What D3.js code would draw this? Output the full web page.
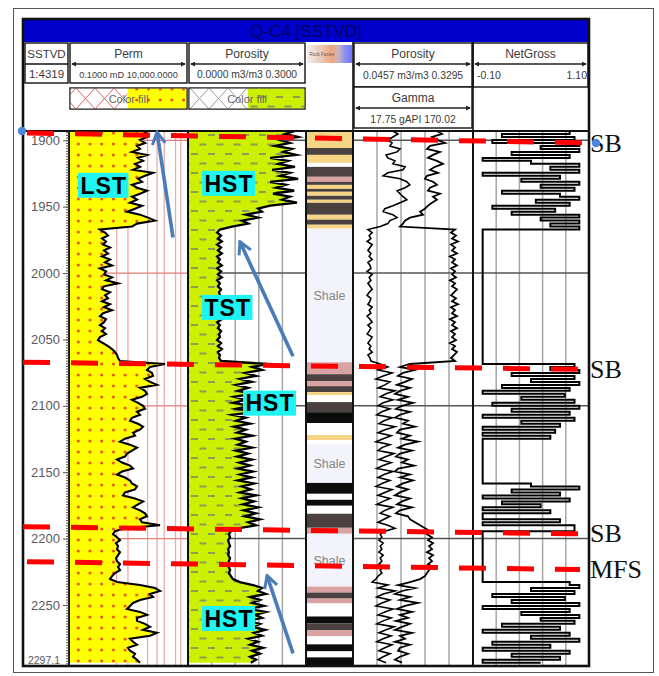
<!DOCTYPE html>
<html>
<head>
<meta charset="utf-8">
<title>Q-C4 well log</title>
<script src="https://cdn.jsdelivr.net/npm/d3@7/dist/d3.min.js"></script>
<style>
  html, body { margin: 0; padding: 0; background: #fff; }
  svg { display: block; font-family: "Liberation Sans", Arial, sans-serif; }
</style>
</head>
<body>
<svg id="log" width="659" height="676"></svg>
<script>
// ---------------- data ----------------
// Depth axis (m SSTVD)
const depthTicks = [1900, 1950, 2000, 2050, 2100, 2150, 2200, 2250];
const depthBaseLabel = "2297.1";
const depthGrid = [1900, 2000, 2100, 2200];

// Log samples on a regular 2.25 m step from 1893 m
const sampleTop = 1893;
const sampleStep = 2.25;

// Permeability, mD
const perm = [
  208, 129, 189, 96.2, 156, 71.9, 96.2, 44.4, 189, 79.3,
  129, 59.3, 96.2, 48.9, 338, 156, 79.3, 117, 44.4, 71.9,
  189, 96.2, 44.4, 71.9, 36.6, 117, 59.3, 27.4, 96.2, 208,
  410, 71.9, 44.4, 2.0, 3.26, 4.36, 2.44, 3.59, 2.69, 5.29,
  2.96, 4.36, 2.44, 5.29, 3.26, 6.41, 2.0, 3.59, 2.96, 6.41,
  3.59, 11.5, 2.96, 2.44, 5.29, 3.26, 4.36, 2.44, 5.29, 2.96,
  6.41, 2.69, 2.0, 3.59, 2.96, 2.0, 3.26, 2.44, 3.59, 2.0,
  1.65, 2.69, 4.36, 6.41, 8.57, 10.4, 11.5, 13.9, 1081, 253,
  189, 307, 338, 156, 253, 498, 96.2, 156, 189, 117,
  44.4, 79.3, 129, 156, 71.9, 96.2, 44.4, 36.6, 79.3, 129,
  96.2, 48.9, 59.3, 22.5, 13.9, 36.6, 71.9, 44.4, 27.4, 22.5,
  10.4, 16.9, 36.6, 48.9, 16.9, 10.4, 22.5, 36.6, 44.4, 71.9,
  59.3, 22.5, 18.6, 59.3, 129, 79.3, 48.9, 96.2, 156, 189,
  96.2, 117, 666, 22.5, 8.57, 7.06, 10.4, 13.9, 9.44, 11.5,
  10.4, 13.9, 11.5, 9.44, 10.4, 13.9, 11.5, 13.9, 8.57, 6.41,
  5.29, 10.4, 96.2, 410, 666, 253, 338, 96.2, 48.9, 36.6,
  27.4, 96.2, 189, 71.9, 71.9, 156, 253, 129, 498, 253,
  36.6, 48.9, 71.9, 30.1, 36.6, 59.3, 48.9, 71.9, 96.2
];

// Porosity, m3/m3 (track 2)
const porosity = [
  .272, .247, .280, .234, .259, .221, .264, .242, .275, .209,
  .254, .229, .272, .214, .259, .234, .280, .209, .249, .224,
  .270, .216, .259, .239, .277, .209, .178, .188, .147, .178,
  .137, .153, .112,
  .081, .074, .084, .076, .086, .074, .084, .076, .086, .074,
  .081, .076, .086, .074, .084, .076, .086, .074, .081, .076,
  .084, .079, .081, .074, .084, .076, .086, .074, .084, .076,
  .086, .074, .081, .076, .084, .079, .081, .074, .084, .076,
  .086, .076, .081, .079, .084,
  .203, .163, .188, .145, .173, .132, .163, .122, .153, .127,
  .163, .117, .147, .114, .158, .122, .173, .112, .147, .122,
  .158, .117, .147, .125, .163, .120, .147, .127, .163, .122,
  .153, .125, .163, .130, .158, .127, .165, .132, .163, .127,
  .168, .137, .160, .132, .173, .137, .168, .140, .178, .142,
  .173, .145, .183, .153, .173, .127,
  .109, .104, .107, .102, .104, .107, .102, .104, .102, .107,
  .104, .102, .104, .107, .104, .109, .114,
  .132, .165, .188, .178, .198, .158, .183, .163, .193, .153,
  .198, .170, .188, .153, .183, .163, .196, .168, .188, .153,
  .178, .158, .191, .163, .183, .158, .173, .160
];

// Porosity, m3/m3 (track 4)
const porosity2 = [
  .140, .152, .140, .128, .138, .133, .157, .150, .124, .128,
  .145, .140, .169, .164, .128, .117, .157, .173, .180, .169,
  .150, .157, .164, .173, .157, .140, .121, .117, .140, .150,
  .133, .128, .110,
  .081, .091, .084, .088, .079, .091, .086, .081, .088, .084,
  .091, .081, .086, .088, .079, .091, .084, .088, .081, .086,
  .091, .084, .079, .088, .086, .081, .091, .084, .088, .079,
  .086, .091, .081, .088, .084, .079, .091, .086, .081, .088,
  .084, .091, .081, .086, .088,
  .110, .128, .105, .138, .117, .100, .133, .121, .105, .145,
  .124, .110, .140, .117, .105, .133, .114, .102, .138, .119,
  .107, .145, .121, .105, .136, .117, .100, .133, .114, .105,
  .143, .124, .107, .136, .117, .102, .140, .119, .105, .133,
  .114, .100, .138, .121, .105, .133, .117, .102, .140, .121,
  .110, .133, .119, .105, .128, .145,
  .121, .110, .114, .107, .117, .110, .114, .107, .117, .110,
  .114, .107, .117, .110, .114, .105, .100,
  .091, .128, .105, .145, .117, .102, .133, .114, .100, .140,
  .121, .105, .136, .117, .102, .143, .124, .107, .136, .117,
  .102, .138, .121, .107, .133, .117, .105, .124
];

// Gamma ray, gAPI
const gamma = [
  124.3, 130.7, 118.0, 124.3, 134.5, 115.5, 111.6, 128.1, 119.3, 112.9,
  124.3, 131.9, 121.8, 115.5, 125.6, 111.6, 109.1, 119.3, 124.3, 115.5,
  112.9, 128.1, 119.3, 124.3, 118.0, 112.9, 109.1, 102.8, 106.6, 90.1,
  83.7, 81.2, 77.4,
  147.2, 142.1, 148.4, 143.4, 151.0, 142.1, 147.2, 143.4, 149.7, 140.8,
  147.2, 143.4, 149.7, 142.1, 147.2, 143.4, 148.4, 140.8, 147.2, 143.4,
  149.7, 145.9, 142.1, 148.4, 143.4, 151.0, 142.1, 147.2, 143.4, 149.7,
  140.8, 147.2, 143.4, 149.7, 142.1, 147.2, 143.4, 148.4, 140.8, 147.2,
  143.4, 149.7, 145.9, 142.1, 147.2,
  90.1, 77.4, 96.4, 81.2, 74.9, 92.6, 83.7, 73.6, 90.1, 77.4,
  71.0, 87.5, 74.9, 93.9, 79.9, 72.3, 90.1, 77.4, 71.0, 87.5,
  81.2, 96.4, 77.4, 73.6, 90.1, 79.9, 100.2, 83.7, 74.9, 92.6,
  77.4, 72.3, 87.5, 79.9, 95.2, 74.9, 71.0, 90.1, 77.4, 93.9,
  81.2, 73.6, 87.5, 77.4, 71.0, 90.1, 79.9, 73.6, 92.6, 77.4,
  72.3, 87.5, 90.1, 96.4, 102.8, 109.1,
  115.5, 111.6, 118.0, 112.9, 119.3, 114.2, 118.0, 111.6, 119.3, 114.2,
  118.0, 112.9, 119.3, 114.2, 111.6, 109.1, 102.8,
  90.1, 74.9, 96.4, 79.9, 71.0, 90.1, 77.4, 100.2, 83.7, 73.6,
  92.6, 77.4, 87.5, 72.3, 90.1, 79.9, 71.0, 92.6, 77.4, 83.7,
  71.0, 90.1, 77.4, 74.9, 87.5, 77.4, 71.0, 79.9
];

// Net to gross flag
const netGross = [
  0.9, 0.2, 0.95, 0.1, 1.0, 0.6, 1.0, 0.3, 0.9, 0.0,
  0.5, 1.0, 0.7, 1.0, 0.0, 0.8, 0.4, 1.0, 0.6, 0.95,
  0.2, 0.8, 1.0, 0.55, 0.9, 0.1, 0.75, 0.3, 1.0, 0.6,
  1.0, 0.7, 1.0,
  0, 0, 0, 0, 0, 0, 0, 0, 0, 0,
  0, 0, 0, 0, 0, 0, 0, 0, 0, 0,
  0, 0, 0, 0, 0, 0, 0, 0, 0, 0,
  0, 0, 0, 0, 0, 0, 0, 0, 0, 0,
  0, 0, 0, 0, 0,
  0.95, 0.7, 1.0, 0.3, 0.95, 0.5, 1.0, 0.2, 0.9, 0.0,
  0.85, 0.4, 0.95, 0.1, 1.0, 0.3, 0.9, 0.0, 0.95, 0.4,
  0.8, 0.0, 0.75, 0.0, 0.7, 0.0,
  0, 0, 0, 0, 0, 0, 0, 0, 0, 0, 0, 0, 0, 0,
  0.5, 1.0, 0.3, 0.8, 0.0, 0.9, 0.2, 0.6, 0.0, 0.7,
  0.0, 0.0, 0.8, 0.0, 0.95, 0.95,
  0, 0, 0, 0, 0, 0, 0, 0, 0, 0, 0, 0, 0, 0, 0, 0, 0,
  0.9, 1.0, 0.5, 0.95, 0.1, 0.85, 0.3, 1.0, 0.0, 0.9,
  0.4, 1.0, 0.6, 0.95, 0.2, 0.8, 0.0, 0.9, 0.5, 1.0,
  0.1, 0.7, 0.0, 0.9, 0.3, 0.8, 0.0, 0.6
];

// Lithology column: interval tops (m) and rock class
const lithoTop = [
  1893.0, 1905.8, 1911.0, 1917.0, 1920.0, 1927.5, 1931.3, 1933.6, 1936.6, 1938.8,
  1941.8, 1944.8, 1947.1, 1956.1, 1959.8, 1963.6, 1966.6, 2067.2, 2076.2, 2081.5,
  2085.2, 2089.7, 2092.0, 2097.2, 2104.8, 2113.0, 2122.0, 2125.8, 2128.8, 2158.1,
  2166.3, 2170.8, 2175.3, 2181.3, 2191.9, 2196.4, 2236.2, 2240.7, 2245.2, 2248.9,
  2258.7, 2264.0, 2269.2, 2273.7, 2279.7, 2285.0, 2289.5
];
const lithoClass = [
  "sand", "shaly", "sand", "silt", "shaly", "calc", "shaly", "sand", "shaly", "sand",
  "shaly", "sand", "shaly", "sand", "shaly", "sand", "shale", "calc", "shaly", "calc",
  "shaly", "sand", "silt", "shaly", "coal", "silt", "sand", "silt", "shale", "coal",
  "silt", "coal", "silt", "shaly", "calc", "shale", "calc", "shaly", "calc", "silt",
  "coal", "shaly", "calc", "silt", "coal", "silt", "coal"
];

// Sequence-stratigraphic surfaces
const surfaceName = ["SB", "SB", "SB", "MFS"];
const surfaceDepthLeft = [1894.5, 2067.2, 2191.1, 2217.4];
const surfaceDepthRight = [1902.0, 2072.5, 2196.4, 2223.4];

// Systems tracts
const tractName = ["LST", "HST", "TST", "HST", "HST"];
const tractDepth = [1933.9, 1932.4, 2025.9, 2098.0, 2260.2];
const tractTrack = ["perm", "poro", "poro", "poro", "poro"];

// Trend arrows (tail -> head), in track units
const arrowTrack = ["perm", "poro", "poro"];
const arrowTailValue = [2345, 0.267, 0.267];
const arrowTailDepth = [1973.3, 2062.7, 2286.5];
const arrowHeadValue = [500, 0.132, 0.201];
const arrowHeadDepth = [1893.8, 1976.4, 2227.9];

// Permeability grid lines, mD
const permGrid = [10, 30, 200, 500, 1000, 3000, 5000];

// ---------------- layout ----------------
const svg = d3.select("#log");
const TOP = 131, BOT = 666;
const col = {
  depth: [23, 69], perm: [69, 188], poro: [188, 306],
  litho: [306, 353], gam: [353, 473], ng: [473, 589]
};

const y = d3.scaleLinear().domain([1893, 2296]).range([TOP, BOT]);
const xPerm = d3.scaleLog().domain([0.1, 10000]).range(col.perm);
const xPoro = d3.scaleLinear().domain([0, 0.3]).range(col.poro);
const xPor2 = d3.scaleLinear().domain([0.0457, 0.3295]).range(col.gam);
const xGam = d3.scaleLinear().domain([17.75, 170.02]).range(col.gam);
const xNG = d3.scaleLinear().domain([-0.1, 1.1]).range(col.ng);
const xTrack = { perm: xPerm, poro: xPoro };

const rows = perm.map((p, i) => ({
  d: sampleTop + i * sampleStep,
  perm: p, poro: porosity[i], por2: porosity2[i], gam: gamma[i], ng: netGross[i]
}));

const lithoColor = d3.scaleOrdinal()
  .domain(["sand", "shaly", "calc", "coal", "silt", "shale"])
  .range(["#f6d486", "#4a4140", "#d9a3a3", "#0c0c0c", "#ffffff", "#f2f3fb"]);

// ---------------- defs ----------------
const defs = svg.append("defs");

defs.append("clipPath").attr("id", "dataClip")
  .append("rect").attr("x", col.depth[0]).attr("y", TOP)
  .attr("width", col.ng[1] - col.depth[0]).attr("height", BOT - TOP);

const dots = defs.append("pattern").attr("id", "sandDots")
  .attr("patternUnits", "userSpaceOnUse").attr("width", 11.7).attr("height", 11)
  .attr("x", 69).attr("y", 131);
dots.append("rect").attr("width", 11.7).attr("height", 11).attr("fill", "#ffff00");
dots.append("circle").attr("cx", 9.3).attr("cy", 2).attr("r", 1.5).attr("fill", "#ee4a22");

const dashes = defs.append("pattern").attr("id", "limeDash")
  .attr("patternUnits", "userSpaceOnUse").attr("width", 17).attr("height", 19)
  .attr("x", 188).attr("y", 131);
dashes.append("rect").attr("width", 17).attr("height", 19).attr("fill", "#ccf000");
dashes.append("rect").attr("x", 3).attr("y", 3).attr("width", 7).attr("height", 2).attr("fill", "#8e9d55");
dashes.append("rect").attr("x", 11.5).attr("y", 12.5).attr("width", 7).attr("height", 2).attr("fill", "#8e9d55");
dashes.append("rect").attr("x", -5.5).attr("y", 12.5).attr("width", 7).attr("height", 2).attr("fill", "#8e9d55");

function crossPattern(id, color) {
  const p = defs.append("pattern").attr("id", id)
    .attr("patternUnits", "userSpaceOnUse").attr("width", 19).attr("height", 21)
    .attr("x", 0).attr("y", 88);
  p.append("rect").attr("width", 19).attr("height", 21).attr("fill", "#fff");
  p.append("path").attr("d", "M0,0L19,21M19,0L0,21")
    .attr("stroke", color).attr("stroke-width", 1).attr("fill", "none");
}
crossPattern("redCross", "#e06060");
crossPattern("greyCross", "#9a9a9a");

defs.append("marker").attr("id", "blueHead")
  .attr("viewBox", "0 0 16 16").attr("refX", 14).attr("refY", 8)
  .attr("markerWidth", 16).attr("markerHeight", 16)
  .attr("markerUnits", "userSpaceOnUse").attr("orient", "auto")
  .append("path").attr("d", "M2,1.5L14,8L2,14.5")
  .attr("fill", "none").attr("stroke", "#4a7cba").attr("stroke-width", 3)
  .attr("stroke-linejoin", "miter");

defs.append("marker").attr("id", "tinyHead")
  .attr("viewBox", "0 0 6 6").attr("refX", 5).attr("refY", 3)
  .attr("markerWidth", 5).attr("markerHeight", 5)
  .attr("markerUnits", "userSpaceOnUse").attr("orient", "auto-start-reverse")
  .append("path").attr("d", "M0,0L6,3L0,6Z").attr("fill", "#222");

// ---------------- frames ----------------
svg.append("rect").attr("x", 13.5).attr("y", 8.5).attr("width", 640).attr("height", 664)
  .attr("fill", "#fff").attr("stroke", "#555").attr("stroke-width", 1);
svg.append("rect").attr("x", 23).attr("y", 19).attr("width", 566).attr("height", 647)
  .attr("fill", "#fff");

// ---------------- grid ----------------
const grid = svg.append("g").attr("clip-path", "url(#dataClip)");

grid.selectAll("line.pv").data(permGrid).join("line")
  .attr("x1", d => xPerm(d)).attr("x2", d => xPerm(d))
  .attr("y1", TOP).attr("y2", BOT)
  .attr("stroke", "#efaaaa").attr("stroke-width", 1.3);
grid.selectAll("line.ph").data(depthGrid).join("line")
  .attr("x1", col.perm[0]).attr("x2", col.perm[1])
  .attr("y1", d => y(d)).attr("y2", d => y(d))
  .attr("stroke", "#e07c7c").attr("stroke-width", 1.3);

[xPoro, xGam, xNG].forEach(sc => {
  const dom = sc.domain();
  const vals = d3.range(1, 5).map(k => dom[0] + (dom[1] - dom[0]) * k / 5);
  grid.append("g").selectAll("line").data(vals).join("line")
    .attr("x1", d => sc(d)).attr("x2", d => sc(d))
    .attr("y1", TOP).attr("y2", BOT)
    .attr("stroke", "#a6a6a6").attr("stroke-width", 1.5);
});
grid.selectAll("line.gh").data(depthGrid).join("line")
  .attr("x1", col.poro[0]).attr("x2", col.ng[1])
  .attr("y1", d => y(d)).attr("y2", d => y(d))
  .attr("stroke", "#555").attr("stroke-width", 1.6);

// ---------------- fills and curves ----------------
const plot = svg.append("g").attr("clip-path", "url(#dataClip)");

plot.append("path").datum(rows)
  .attr("d", d3.area().y(r => y(r.d)).x0(col.perm[0]).x1(r => xPerm(r.perm)))
  .attr("fill", "url(#sandDots)");
plot.append("path").datum(rows)
  .attr("d", d3.area().y(r => y(r.d)).x0(col.poro[0]).x1(r => xPoro(r.poro)))
  .attr("fill", "url(#limeDash)");

function curve(key, sc, w) {
  plot.append("path").datum(rows)
    .attr("d", d3.line().y(r => y(r.d)).x(r => sc(r[key])))
    .attr("fill", "none").attr("stroke", "#000")
    .attr("stroke-width", w).attr("stroke-linejoin", "miter").attr("stroke-miterlimit", 6);
}
curve("perm", xPerm, 2.1);
curve("poro", xPoro, 2.3);

// lithology column
lithoTop.forEach((t, i) => {
  const b = i + 1 < lithoTop.length ? lithoTop[i + 1] : y.domain()[1];
  plot.append("rect")
    .attr("x", col.litho[0]).attr("width", col.litho[1] - col.litho[0])
    .attr("y", y(t)).attr("height", y(b) - y(t))
    .attr("fill", lithoColor(lithoClass[i]));
  if (lithoClass[i] === "shale") {
    plot.append("text").attr("x", (col.litho[0] + col.litho[1]) / 2)
      .attr("y", y((t + b) / 2)).attr("dy", "0.35em")
      .attr("text-anchor", "middle").attr("font-size", 12.5)
      .attr("fill", "#858585").text("Shale");
  }
});

curve("por2", xPor2, 1.6);
curve("gam", xGam, 1.8);

plot.append("path").datum(rows)
  .attr("d", d3.line().curve(d3.curveStepBefore).y(r => y(r.d)).x(r => xNG(r.ng)))
  .attr("fill", "none").attr("stroke", "#000").attr("stroke-width", 2);

// ---------------- track separators ----------------
[col.perm[0], col.poro[0], col.litho[0], col.gam[0], col.ng[0]].forEach(x => {
  svg.append("line").attr("x1", x).attr("x2", x).attr("y1", TOP).attr("y2", BOT)
    .attr("stroke", "#111").attr("stroke-width", 2);
});
svg.append("line").attr("x1", 23).attr("x2", 589).attr("y1", TOP).attr("y2", TOP)
  .attr("stroke", "#111").attr("stroke-width", 2.2);

// ---------------- depth axis ----------------
const axisMinor = d3.axisLeft(y).tickValues(d3.range(1894, 2296, 2)).tickSize(3).tickFormat("");
const axisMajor = d3.axisLeft(y).tickValues(depthTicks).tickSize(6).tickPadding(3)
  .tickFormat(d3.format("d"));
const gMinor = svg.append("g").attr("transform", `translate(${col.perm[0]},0)`).call(axisMinor);
const gMajor = svg.append("g").attr("transform", `translate(${col.perm[0]},0)`).call(axisMajor);
[gMinor, gMajor].forEach(g => {
  g.select(".domain").remove();
  g.selectAll("line").attr("stroke", "#555").attr("stroke-width", 1);
});
gMajor.selectAll("text").attr("font-size", 13).attr("fill", "#5a5a5a")
  .attr("font-family", "'Liberation Sans', Arial, sans-serif");
svg.append("text").attr("x", 60).attr("y", BOT - 2).attr("text-anchor", "end")
  .attr("font-size", 10.5).attr("fill", "#5a5a5a").text(depthBaseLabel);

// ---------------- header ----------------
const hdr = svg.append("g");
hdr.append("rect").attr("x", 23).attr("y", 19).attr("width", 566).attr("height", 23)
  .attr("fill", "#0000cd");
hdr.append("text").attr("x", 306).attr("y", 37).attr("text-anchor", "middle")
  .attr("font-size", 17).attr("fill", "#00005e").text("Q-C4 [SSTVD]");

function box(x0, y0, x1, y1, fill) {
  hdr.append("rect").attr("x", x0).attr("y", y0).attr("width", x1 - x0).attr("height", y1 - y0)
    .attr("fill", fill || "#fff").attr("stroke", "#111").attr("stroke-width", 1.4);
}
function label(x, yy, txt, size, anchor, color) {
  hdr.append("text").attr("x", x).attr("y", yy).attr("text-anchor", anchor || "middle")
    .attr("font-size", size).attr("fill", color || "#3a3a3a").text(txt);
}
function scaleLine(x0, x1, yy) {
  hdr.append("line").attr("x1", x0).attr("x2", x1).attr("y1", yy).attr("y2", yy)
    .attr("stroke", "#222").attr("stroke-width", 1.3)
    .attr("marker-start", "url(#tinyHead)").attr("marker-end", "url(#tinyHead)");
}

// depth column
box(25, 43, 68, 83);
hdr.append("line").attr("x1", 25).attr("x2", 68).attr("y1", 64).attr("y2", 64)
  .attr("stroke", "#111").attr("stroke-width", 1.4);
label(46.5, 58, "SSTVD", 11.5);
label(46.5, 78, "1:4319", 11.5);

// perm
box(70, 43, 187, 83);
label(128.5, 58, "Perm", 12);
scaleLine(72, 185, 64);
label(128.5, 78, "0.1000 mD 10,000.0000", 9.2);
box(70, 88, 187, 109);
hdr.append("rect").attr("x", 70.7).attr("y", 88.7).attr("width", 57).attr("height", 19.6).attr("fill", "url(#redCross)");
hdr.append("rect").attr("x", 127.7).attr("y", 88.7).attr("width", 58.6).attr("height", 19.6).attr("fill", "url(#sandDots)");
label(128.5, 103, "Color fill", 11, "middle", "#666");

// porosity
box(189, 43, 305, 83);
label(247, 58, "Porosity", 12);
scaleLine(191, 303, 64);
label(247, 78, "0.0000 m3/m3 0.3000", 10.3);
box(189, 88, 305, 109);
hdr.append("rect").attr("x", 189.7).attr("y", 88.7).attr("width", 58).attr("height", 19.6).attr("fill", "url(#greyCross)");
hdr.append("rect").attr("x", 247.7).attr("y", 88.7).attr("width", 56.6).attr("height", 19.6).attr("fill", "url(#limeDash)");
label(247, 103, "Color fill", 11, "middle", "#666");

// lithology header strip
const grad = defs.append("linearGradient").attr("id", "faciesGrad");
[["0", "#f3efe8"], ["0.35", "#e9c4b4"], ["0.55", "#f0a27c"], ["0.7", "#c8b7c2"], ["0.85", "#8c8cf4"], ["1", "#7474ff"]]
  .forEach(([o, c]) => grad.append("stop").attr("offset", o).attr("stop-color", c));
hdr.append("rect").attr("x", 307).attr("y", 45).attr("width", 45).attr("height", 18)
  .attr("fill", "url(#faciesGrad)");
label(322, 56, "Rock Facies", 4.5, "middle", "#7a5a50");

// porosity / gamma
box(354, 43, 472, 87);
label(413, 58, "Porosity", 12);
scaleLine(356, 470, 64);
label(413, 79, "0.0457 m3/m3 0.3295", 10.3);
box(354, 87, 472, 128);
label(413, 102, "Gamma", 12);
scaleLine(356, 470, 108);
label(413, 123, "17.75  gAPI  170.02", 10.3);

// net gross
box(473, 43, 588, 87);
label(530.5, 58, "NetGross", 12);
scaleLine(475, 586, 64);
label(477, 79, "-0.10", 10.5, "start");
label(587, 79, "1.10", 10.5, "end");

// separators through the header block
[col.gam[0], col.ng[0]].forEach(x => {
  hdr.append("line").attr("x1", x).attr("x2", x).attr("y1", 42).attr("y2", TOP)
    .attr("stroke", "#111").attr("stroke-width", 1.6);
});

// outer chart border
svg.append("rect").attr("x", 23).attr("y", 19).attr("width", 566).attr("height", 647)
  .attr("fill", "none").attr("stroke", "#111").attr("stroke-width", 2.6);

// ---------------- annotations ----------------
const ann = svg.append("g");

// stratigraphic surfaces
const surfStart = [27, 23, 23, 27];
const surfEnd = [590, 578, 578, 580];
surfaceName.forEach((name, i) => {
  ann.append("line")
    .attr("x1", surfStart[i]).attr("y1", y(surfaceDepthLeft[i]))
    .attr("x2", surfEnd[i]).attr("y2", y(surfaceDepthRight[i]))
    .attr("stroke", "#ff0000").attr("stroke-width", 5)
    .attr("stroke-dasharray", "27 21");
  ann.append("text").attr("x", 590).attr("y", y(surfaceDepthRight[i]))
    .attr("dy", "0.33em").attr("font-family", "'Liberation Serif', 'Times New Roman', serif")
    .attr("font-size", 26).attr("fill", "#111").text(name);
});
// line handles on the top boundary
ann.append("circle").attr("cx", 22).attr("cy", y(surfaceDepthLeft[0]) - 2).attr("r", 4.2).attr("fill", "#4a86e0");
ann.append("circle").attr("cx", 596).attr("cy", y(surfaceDepthRight[0])).attr("r", 4.2).attr("fill", "#4a86e0");

// trend arrows
arrowTrack.forEach((t, i) => {
  const sc = xTrack[t];
  ann.append("line")
    .attr("x1", sc(arrowTailValue[i])).attr("y1", y(arrowTailDepth[i]))
    .attr("x2", sc(arrowHeadValue[i])).attr("y2", y(arrowHeadDepth[i]))
    .attr("stroke", "#4a7cba").attr("stroke-width", 3.6)
    .attr("marker-end", "url(#blueHead)");
});

// systems tract tags
const tractOffset = [9, 14, 14, 55, 14];
tractName.forEach((name, i) => {
  const g = ann.append("g");
  const x0 = col[tractTrack[i]][0] + tractOffset[i];
  const yc = y(tractDepth[i]);
  const txt = g.append("text").attr("x", x0 + 2.5).attr("y", yc).attr("dy", "0.36em")
    .attr("font-size", 23).attr("font-weight", "bold").attr("letter-spacing", 1)
    .attr("fill", "#000").text(name);
  const w = txt.node().getComputedTextLength();
  g.insert("rect", "text").attr("x", x0).attr("y", yc - 12.5)
    .attr("width", w + 4).attr("height", 25).attr("fill", "#1ef4f4");
});
</script>
</body>
</html>
